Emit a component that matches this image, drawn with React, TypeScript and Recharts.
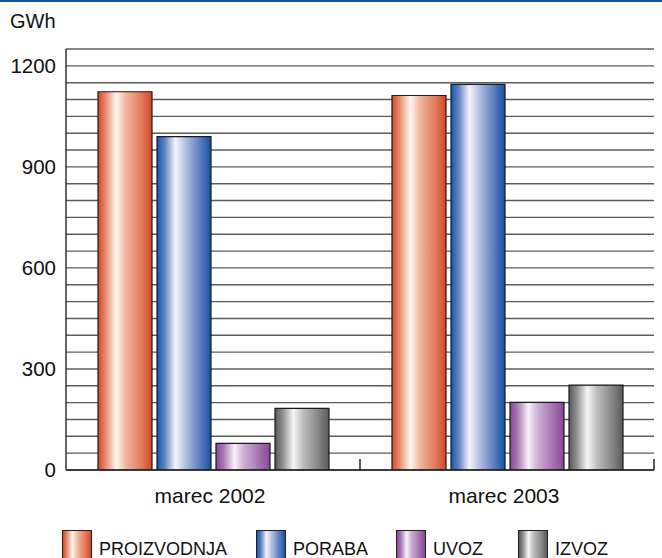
import React from 'react';
import { BarChart, Bar, XAxis, YAxis, CartesianGrid } from 'recharts';

// Monthly electricity balance, GWh
const categories = ['marec 2002', 'marec 2003'];
const proizvodnja = [1123, 1112];
const poraba = [990, 1145];
const uvoz = [79, 201];
const izvoz = [183, 252];

const yTicks = [0, 50, 100, 150, 200, 250, 300, 350, 400, 450, 500, 550, 600, 650, 700, 750, 800, 850, 900, 950, 1000, 1050, 1100, 1150, 1200, 1250];
const yLabelled = [0, 300, 600, 900, 1200];

const seriesNames = ['PROIZVODNJA', 'PORABA', 'UVOZ', 'IZVOZ'];
const seriesKeys = ['proizvodnja', 'poraba', 'uvoz', 'izvoz'];

const data = categories.map((name, i) => ({
  name,
  proizvodnja: proizvodnja[i],
  poraba: poraba[i],
  uvoz: uvoz[i],
  izvoz: izvoz[i],
}));

// Shaded "cylinder" look for each series: [offset, colour]
const shades: Array<Array<[number, string]>> = [
  [[0, '#d6472a'], [0.14, '#e88a6c'], [0.34, '#fff7f0'], [0.52, '#f0b59d'], [0.8, '#e27b5c'], [1, '#d4462a']],
  [[0, '#1657a6'], [0.14, '#5d82c3'], [0.34, '#f4f5fb'], [0.52, '#b5c2e2'], [0.8, '#5a7cbf'], [1, '#1453a3']],
  [[0, '#8a4797'], [0.14, '#a979b4'], [0.34, '#f8f0f8'], [0.52, '#cbaed3'], [0.8, '#a472b0'], [1, '#8a4897']],
  [[0, '#585858'], [0.14, '#8e8e8e'], [0.34, '#f6f6f6'], [0.52, '#bdbdbd'], [0.8, '#878787'], [1, '#5a5a5a']],
];

const W = 662;
const H = 558;
const MARGIN = { top: 49, right: 8, bottom: 58, left: 0 };
const X_AXIS_H = 30;
const AXIS_Y = H - MARGIN.bottom - X_AXIS_H;
const FONT = '"Liberation Sans", Arial, Helvetica, sans-serif';

const cssGradient = (stops: Array<[number, string]>) =>
  `linear-gradient(to right, ${stops.map(([o, c]) => `${c} ${o * 100}%`).join(', ')})`;

const CategoryTick = (props: any) => {
  const { x, payload } = props;
  const half = payload && typeof payload.offset === 'number' && payload.offset > 0 ? payload.offset : 147;
  return (
    <g>
      <line x1={x + half} x2={x + half} y1={AXIS_Y} y2={AXIS_Y - 11} stroke="#222" strokeWidth={1.5} />
      <text x={x - 3} y={AXIS_Y + 33} textAnchor="middle" fontSize={21} fontFamily={FONT} fill="#111">
        {payload.value}
      </text>
    </g>
  );
};

export default function App() {
  return (
    <div style={{ position: 'absolute', left: 0, top: 0, width: W, height: H, background: '#fff', overflow: 'hidden', fontFamily: FONT }}>
      <div style={{ position: 'absolute', left: 0, top: 0, width: W, height: 2, background: '#0b5aa5' }} />
      <div style={{ position: 'absolute', left: 10, top: 11, fontSize: 20, lineHeight: '20px', color: '#111' }}>GWh</div>
      <BarChart
        width={W}
        height={H}
        data={data}
        margin={MARGIN}
        barCategoryGap={32}
        barGap={5}
      >
        <defs>
          {shades.map((stops, i) => (
            <linearGradient key={i} id={`shade${i}`} x1="0" y1="0" x2="1" y2="0">
              {stops.map(([o, c], j) => (
                <stop key={j} offset={o} stopColor={c} />
              ))}
            </linearGradient>
          ))}
        </defs>
        <CartesianGrid vertical={false} stroke="#5c5c5c" strokeWidth={1.4} />
        <XAxis
          dataKey="name"
          height={X_AXIS_H}
          axisLine={{ stroke: '#222', strokeWidth: 1.5 }}
          tickLine={false}
          tick={<CategoryTick />}
          interval={0}
        />
        <YAxis
          width={66}
          domain={[0, 1250]}
          ticks={yTicks}
          interval={0}
          allowDataOverflow
          axisLine={{ stroke: '#333', strokeWidth: 1.5 }}
          tickLine={false}
          tickMargin={4}
          tickFormatter={(v: number) => (yLabelled.includes(v) ? String(v) : '')}
          tick={{ fontSize: 20.5, fontFamily: FONT, fill: '#111' }}
        />
        {seriesKeys.map((k, i) => (
          <Bar
            key={k}
            dataKey={k}
            name={seriesNames[i]}
            fill={`url(#shade${i})`}
            stroke="#1a1a1a"
            strokeWidth={1.2}
            isAnimationActive={false}
          />
        ))}
      </BarChart>
      <div style={{ position: 'absolute', left: 62, top: 530, display: 'flex', alignItems: 'flex-start' }}>
        {seriesNames.map((n, i) => (
          <div key={n} style={{ display: 'flex', alignItems: 'flex-start', width: [194, 140, 122, 140][i] }}>
            <div style={{ width: 28, height: 30, border: '1px solid #222', background: cssGradient(shades[i]) }} />
            <span style={{ marginLeft: 7, marginTop: 10, fontSize: 18, lineHeight: '18px', color: '#111', whiteSpace: 'nowrap' }}>{n}</span>
          </div>
        ))}
      </div>
    </div>
  );
}
